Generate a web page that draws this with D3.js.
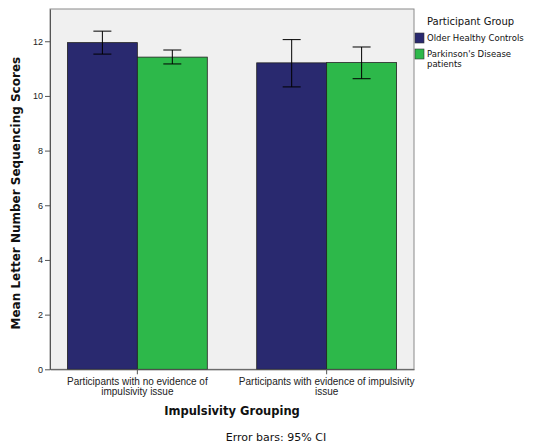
<!DOCTYPE html>
<html><head><meta charset="utf-8">
<script src="https://cdnjs.cloudflare.com/ajax/libs/d3/7.8.5/d3.min.js"></script>
<style>body{margin:0;background:#fff;}svg{display:block;font-family:"DejaVu Sans",sans-serif;}</style>
</head><body><svg id="c" width="533" height="443"></svg>
<script>
const categories = ["Participants with no evidence of impulsivity issue", "Participants with evidence of impulsivity issue"];
const categoryLines = [["Participants with no evidence of", "impulsivity issue"], ["Participants with evidence of impulsivity", "issue"]];
const seriesNames = ["Older Healthy Controls", "Parkinson's Disease patients"];
const seriesLegendLines = [["Older Healthy Controls"], ["Parkinson's Disease", "patients"]];
const controlsMean = [11.95, 11.21];
const controlsLow = [11.53, 10.33];
const controlsHigh = [12.37, 12.06];
const pdMean = [11.42, 11.22];
const pdLow = [11.17, 10.63];
const pdHigh = [11.68, 11.79];
const yTicks = [0, 2, 4, 6, 8, 10, 12];
const colors = ["#29296f", "#2db84a"];

const svg = d3.select("#c");
const L = 50, R = 414, T = 9, B = 369.3;
const y = d3.scaleLinear().domain([0, 13.18]).range([B, T]);
const x0 = d3.scaleBand().domain(categories).range([L, R]).paddingInner(0.261).paddingOuter(0.092);
const x1 = d3.scaleBand().domain(seriesNames).range([0, x0.bandwidth()]);

svg.append("rect").attr("x", L).attr("y", T).attr("width", R - L).attr("height", B - T)
  .attr("fill", "#f0f0f0").attr("stroke", "#8a8a8a").attr("stroke-width", 1);

const data = categories.map((c, i) => ({
  cat: c,
  vals: [
    {s: seriesNames[0], m: controlsMean[i], lo: controlsLow[i], hi: controlsHigh[i], col: colors[0]},
    {s: seriesNames[1], m: pdMean[i], lo: pdLow[i], hi: pdHigh[i], col: colors[1]}
  ]
}));

const g = svg.selectAll("g.grp").data(data).join("g").attr("class", "grp")
  .attr("transform", d => `translate(${x0(d.cat)},0)`);
g.selectAll("rect").data(d => d.vals).join("rect")
  .attr("x", d => x1(d.s)).attr("y", d => y(d.m))
  .attr("width", x1.bandwidth()).attr("height", d => y(0) - y(d.m))
  .attr("fill", d => d.col).attr("stroke", "#222").attr("stroke-width", 0.8);
const eb = g.selectAll("g.eb").data(d => d.vals).join("g").attr("class", "eb")
  .attr("transform", d => `translate(${x1(d.s) + x1.bandwidth() / 2},0)`);
eb.append("line").attr("x1", 0).attr("x2", 0).attr("y1", d => y(d.lo)).attr("y2", d => y(d.hi)).attr("stroke", "#000").attr("stroke-width", 1);
eb.append("line").attr("x1", -9).attr("x2", 9).attr("y1", d => y(d.lo)).attr("y2", d => y(d.lo)).attr("stroke", "#000").attr("stroke-width", 1);
eb.append("line").attr("x1", -9).attr("x2", 9).attr("y1", d => y(d.hi)).attr("y2", d => y(d.hi)).attr("stroke", "#000").attr("stroke-width", 1);

// axes
const ya = svg.append("g").attr("transform", `translate(${L},0)`)
  .call(d3.axisLeft(y).tickValues(yTicks).tickSize(5).tickPadding(2).tickSizeOuter(0));
ya.select(".domain").attr("stroke", "#555");
ya.selectAll(".tick line").attr("stroke", "#555");
ya.selectAll("text").attr("font-size", 9).attr("fill", "#222");

const xa = svg.append("g").attr("transform", `translate(0,${B})`)
  .call(d3.axisBottom(x0).tickSize(5).tickSizeOuter(0).tickFormat(() => ""));
xa.select(".domain").attr("stroke", "#555");
xa.selectAll(".tick line").attr("stroke", "#555");
xa.selectAll(".tick").each(function(d, i) {
  const t = d3.select(this).select("text").attr("font-size", 10).attr("fill", "#222").attr("y", 16).attr("dy", 0);
  categoryLines[i].forEach((ln, k) => t.append("tspan").attr("x", 0).attr("dy", k === 0 ? 0 : 10).text(ln));
});

svg.append("text").attr("transform", `translate(20,${(T + B) / 2 + 4}) rotate(-90)`).attr("text-anchor", "middle")
  .attr("font-size", 12).attr("font-weight", "bold").attr("fill", "#111").text("Mean Letter Number Sequencing Scores");
svg.append("text").attr("x", (L + R) / 2).attr("y", 415).attr("text-anchor", "middle")
  .attr("font-size", 11.5).attr("font-weight", "bold").attr("fill", "#111").text("Impulsivity Grouping");
svg.append("text").attr("x", 276).attr("y", 441).attr("text-anchor", "middle")
  .attr("font-size", 11).attr("fill", "#111").text("Error bars: 95% CI");

// legend
const lg = svg.append("g");
lg.append("text").attr("x", 427).attr("y", 25).attr("font-size", 10).attr("fill", "#111").text("Participant Group");
seriesNames.forEach((s, i) => {
  const yy = 33 + i * 16;
  lg.append("rect").attr("x", 415).attr("y", yy).attr("width", 9).attr("height", 10).attr("fill", colors[i]).attr("stroke", "#333").attr("stroke-width", 0.6);
  seriesLegendLines[i].forEach((ln, k) => lg.append("text").attr("x", 427).attr("y", yy + 8 + k * 9.5).attr("font-size", 8.5).attr("fill", "#111").text(ln));
});
</script></body></html>
